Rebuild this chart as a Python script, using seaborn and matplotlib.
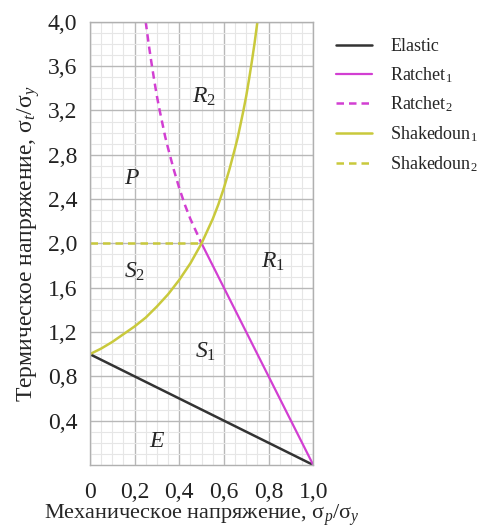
import numpy as np
import pandas as pd
import seaborn as sns
import matplotlib.pyplot as plt
from matplotlib.ticker import MultipleLocator, FixedLocator

# Values
elastic_x = [0.0, 1.0]
elastic_y = [1.0, 0.0]

ratchet1_x = [0.5, 1.0]
ratchet1_y = [2.0, 0.0]

ratchet2_x = [0.25, 0.2625, 0.275, 0.2875, 0.3, 0.3125, 0.325, 0.3375, 0.35, 0.375,
              0.4, 0.425, 0.45, 0.475, 0.5]
ratchet2_y = [4.0, 3.81, 3.64, 3.48, 3.33, 3.2, 3.08, 2.96, 2.86, 2.67,
              2.5, 2.35, 2.22, 2.11, 2.0]

shake1_x = [0.0, 0.05, 0.1, 0.15, 0.2, 0.25, 0.3, 0.35, 0.4, 0.45, 0.5, 0.525, 0.55,
            0.575, 0.6, 0.625, 0.65, 0.6625, 0.675, 0.6875, 0.7, 0.7125, 0.725, 0.7375, 0.75]
shake1_y = [1.0, 1.05, 1.11, 1.18, 1.25, 1.33, 1.43, 1.54, 1.67, 1.82, 2.0, 2.11, 2.22,
            2.35, 2.5, 2.67, 2.86, 2.96, 3.08, 3.2, 3.33, 3.48, 3.64, 3.81, 4.0]

shake2_x = [0.0, 0.5]
shake2_y = [2.0, 2.0]

region_names = ["$R_2$", "$P$", "$S_2$", "$R_1$", "$S_1$", "$E$"]
region_x = [0.51, 0.19, 0.20, 0.82, 0.52, 0.30]
region_y = [3.32, 2.59, 1.74, 1.83, 1.02, 0.21]

x_ticks = [0, 0.2, 0.4, 0.6, 0.8, 1.0]
x_labels = ["0", "0,2", "0,4", "0,6", "0,8", "1,0"]
y_ticks = [0.4, 0.8, 1.2, 1.6, 2.0, 2.4, 2.8, 3.2, 3.6, 4.0]
y_labels = ["0,4", "0,8", "1,2", "1,6", "2,0", "2,4", "2,8", "3,2", "3,6", "4,0"]

MAGENTA = "#d23fd2"
YELLOW = "#c9c93c"
BLACK = "#333333"

sns.set_theme(style="whitegrid")
plt.rcParams["font.family"] = ["Liberation Serif", "DejaVu Serif"]
plt.rcParams["mathtext.fontset"] = "custom"
plt.rcParams["mathtext.rm"] = "Liberation Serif"
plt.rcParams["mathtext.it"] = "Liberation Serif:italic"

fig = plt.figure(figsize=(5.02, 5.32), dpi=100)
ax = fig.add_axes([0.179, 0.126, 0.445, 0.833])

def series(x, y):
    return pd.DataFrame({"x": x, "y": y})

sns.lineplot(data=series(elastic_x, elastic_y), x="x", y="y",
             color=BLACK, lw=1.8, ax=ax, label="Elastic", sort=False)
sns.lineplot(data=series(ratchet1_x, ratchet1_y), x="x", y="y",
             color=MAGENTA, lw=1.6, ax=ax, label="Ratchet$_1$", sort=False)
sns.lineplot(data=series(ratchet2_x, ratchet2_y), x="x", y="y",
             color=MAGENTA, lw=1.8, ls=(0, (3, 2)), ax=ax, label="Ratchet$_2$", sort=False)
sns.lineplot(data=series(shake1_x, shake1_y), x="x", y="y",
             color=YELLOW, lw=1.8, ax=ax, label="Shakedoun$_1$", sort=False)
sns.lineplot(data=series(shake2_x, shake2_y), x="x", y="y",
             color=YELLOW, lw=1.8, ls=(0, (3, 2)), ax=ax, label="Shakedoun$_2$", sort=False)

for name, rx, ry in zip(region_names, region_x, region_y):
    ax.text(rx, ry, name, fontsize=17, ha="center", va="center")

ax.set_xlim(0, 1.0)
ax.set_ylim(0, 4.0)
ax.xaxis.set_major_locator(FixedLocator(x_ticks))
ax.set_xticklabels(x_labels)
ax.yaxis.set_major_locator(FixedLocator(y_ticks))
ax.set_yticklabels(y_labels)
ax.xaxis.set_minor_locator(MultipleLocator(0.05))
ax.yaxis.set_minor_locator(MultipleLocator(0.1))
ax.grid(which="major", color="#b8b8b8", lw=1.0)
ax.grid(which="minor", color="#e6e6e6", lw=0.8)
ax.tick_params(axis="both", labelsize=17, colors="#222222", pad=3)
ax.tick_params(axis="x", pad=6)
for s in ax.spines.values():
    s.set_color("#b0b0b0")
    s.set_linewidth(1.0)

ax.set_xlabel("Механическое напряжение, σ$_{p}$/σ$_{y}$", fontsize=16, labelpad=0)
ax.set_ylabel("Термическое напряжение, σ$_{t}$/σ$_{y}$", fontsize=17, labelpad=4)

leg = ax.legend(loc="upper left", bbox_to_anchor=(1.03, 1.0), frameon=False,
                fontsize=13, handlelength=2.0, handletextpad=1.0, labelspacing=0.55)

fig.savefig("out.png", dpi=100, facecolor="white")
